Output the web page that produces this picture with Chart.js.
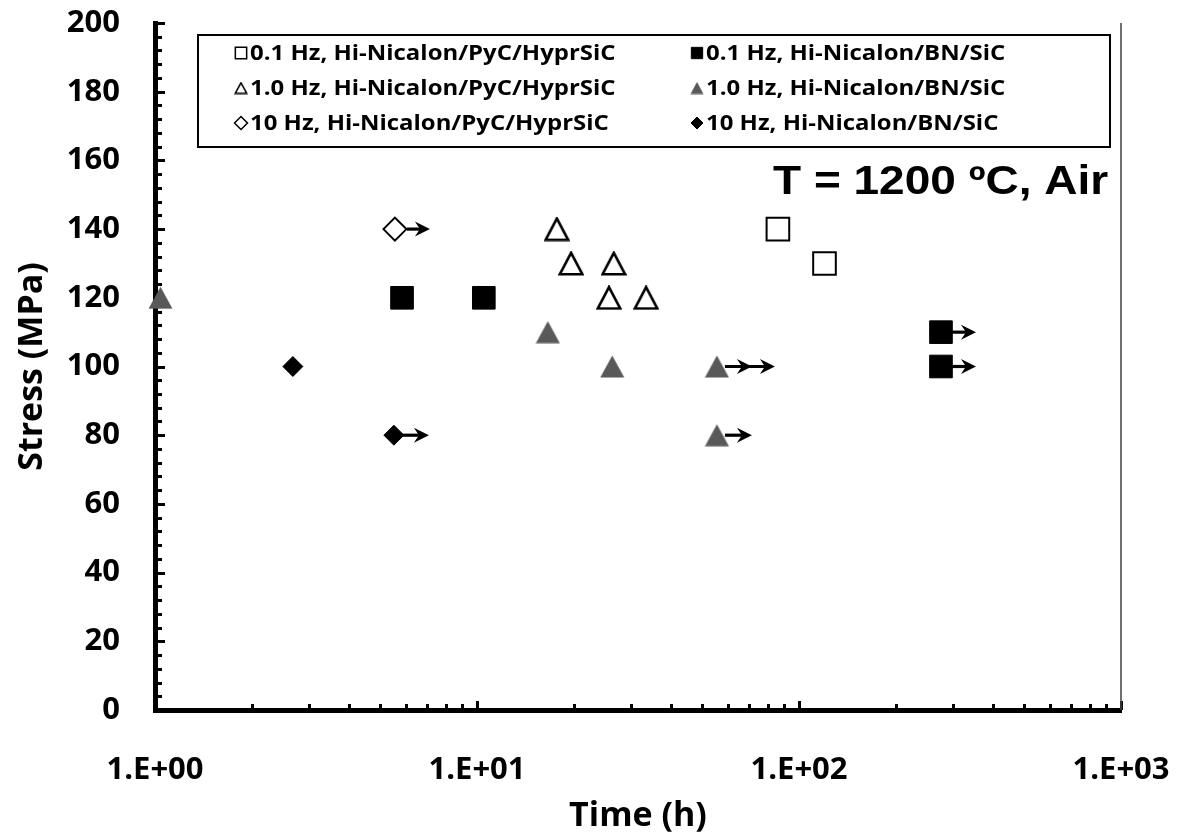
<!DOCTYPE html>
<html>
<head>
<meta charset="utf-8">
<script src="https://cdn.jsdelivr.net/npm/chart.js@4.4.1/dist/chart.umd.min.js"></script>
<style>
  html, body { margin: 0; padding: 0; background: #ffffff; }
  canvas { display: block; }
</style>
</head>
<body>
<canvas id="chart" width="1178" height="837"></canvas>
<script>
// Fatigue life at 1200 °C in air: time to failure (h) vs. maximum stress (MPa).
// runout = number of specimens at that point that did not fail (drawn with arrows).

const seriesLabels = [
  '0.1 Hz, Hi-Nicalon/PyC/HyprSiC',
  '0.1 Hz, Hi-Nicalon/BN/SiC',
  '1.0 Hz, Hi-Nicalon/PyC/HyprSiC',
  '1.0 Hz, Hi-Nicalon/BN/SiC',
  '10 Hz, Hi-Nicalon/PyC/HyprSiC',
  '10 Hz, Hi-Nicalon/BN/SiC'
];

const pyc01Time    = [86, 120];
const pyc01Stress  = [140, 130];
const pyc01Runout  = [0, 0];

const bn01Time     = [5.85, 10.5, 276, 276];
const bn01Stress   = [120, 120, 110, 100];
const bn01Runout   = [0, 0, 1, 1];

const pyc1Time     = [17.7, 19.6, 26.6, 25.7, 33.5];
const pyc1Stress   = [140, 130, 130, 120, 120];
const pyc1Runout   = [0, 0, 0, 0, 0];

const bn1Time      = [1.04, 16.6, 26.3, 55.6, 55.6];
const bn1Stress    = [120, 110, 100, 100, 80];
const bn1Runout    = [0, 0, 0, 2, 1];

const pyc10Time    = [5.56];
const pyc10Stress  = [140];
const pyc10Runout  = [1];

const bn10Time     = [2.68, 5.52];
const bn10Stress   = [100, 80];
const bn10Runout   = [0, 1];

const xTickValues  = [1, 10, 100, 1000];
const yMin = 0, yMax = 200, yStep = 20, yMinorStep = 4;

const annotationText = 'T = 1200 \u00BAC, Air';

const FONT = '"Open Sans", "Liberation Sans", sans-serif';
const GRAY = '#595959';

function toPoints(xs, ys) {
  return xs.map((x, i) => ({ x: x, y: ys[i] }));
}

// Triangle markers centred on their bounding box
function triangleImage(w, h, fill, stroke, lw) {
  const c = document.createElement('canvas');
  c.width = w; c.height = h;
  const g = c.getContext('2d');
  const m = lw / 2 + 0.5;
  g.beginPath();
  g.moveTo(w / 2, m);
  g.lineTo(w - m, h - m);
  g.lineTo(m, h - m);
  g.closePath();
  g.fillStyle = fill;
  g.fill();
  if (lw > 0) {
    g.lineWidth = lw;
    g.lineJoin = 'miter';
    g.strokeStyle = stroke;
    g.stroke();
  }
  return c;
}

const openTri = triangleImage(26, 25, '#ffffff', '#000000', 2.6);
const grayTri = triangleImage(25, 23, GRAY, GRAY, 0);
const openTriLegend = triangleImage(14, 13, '#ffffff', '#000000', 1.6);
const grayTriLegend = triangleImage(14, 13, GRAY, GRAY, 0);

const datasets = [
  { label: seriesLabels[0], data: toPoints(pyc01Time, pyc01Stress), runout: pyc01Runout,
    pointStyle: 'rect', pointRadius: 16, backgroundColor: '#ffffff', borderColor: '#000000', borderWidth: 2,
    legendStyle: 'rect', legendRadius: 8, legendBorder: 1.5, arrowStart: 11 },
  { label: seriesLabels[1], data: toPoints(bn01Time, bn01Stress), runout: bn01Runout,
    pointStyle: 'rect', pointRadius: 16, backgroundColor: '#000000', borderColor: '#000000', borderWidth: 1,
    legendStyle: 'rect', legendRadius: 8, legendBorder: 1, arrowStart: 11 },
  { label: seriesLabels[2], data: toPoints(pyc1Time, pyc1Stress), runout: pyc1Runout,
    pointStyle: openTri, pointRadius: 13, backgroundColor: '#ffffff', borderColor: '#000000', borderWidth: 2,
    legendStyle: openTriLegend, legendRadius: 7, legendBorder: 0, arrowStart: 8 },
  { label: seriesLabels[3], data: toPoints(bn1Time, bn1Stress), runout: bn1Runout,
    pointStyle: grayTri, pointRadius: 13, backgroundColor: GRAY, borderColor: GRAY, borderWidth: 1,
    legendStyle: grayTriLegend, legendRadius: 7, legendBorder: 0, arrowStart: 8 },
  { label: seriesLabels[4], data: toPoints(pyc10Time, pyc10Stress), runout: pyc10Runout,
    pointStyle: 'rectRot', pointRadius: 11.5, backgroundColor: '#ffffff', borderColor: '#000000', borderWidth: 2,
    legendStyle: 'rectRot', legendRadius: 6.5, legendBorder: 1.5, arrowStart: 12 },
  { label: seriesLabels[5], data: toPoints(bn10Time, bn10Stress), runout: bn10Runout,
    pointStyle: 'rectRot', pointRadius: 10, backgroundColor: '#000000', borderColor: '#000000', borderWidth: 1,
    legendStyle: 'rectRot', legendRadius: 6, legendBorder: 1, arrowStart: 8 }
].map(d => Object.assign(d, { showLine: false, clip: false, pointHoverRadius: d.pointRadius }));

// Inside tick marks on the left and bottom axes, plus the right frame line
const axisTicks = {
  id: 'axisTicks',
  beforeDatasetsDraw(chart) {
    const ctx = chart.ctx, a = chart.chartArea;
    const xs = chart.scales.x, ys = chart.scales.y;
    ctx.save();
    ctx.strokeStyle = '#000000';
    ctx.lineWidth = 3;
    for (let v = yMin; v <= yMax; v += yMinorStep) {
      const py = Math.round(ys.getPixelForValue(v)) + 0.5;
      const major = v % yStep === 0;
      ctx.beginPath();
      ctx.moveTo(a.left, py);
      ctx.lineTo(a.left + (major ? 10 : 7), py);
      ctx.stroke();
    }
    for (let d = 0; d < xTickValues.length; d++) {
      const base = xTickValues[d];
      for (let k = 1; k <= 9; k++) {
        const v = base * k;
        if (v > xs.max || (k === 1 && d === 0)) continue;
        const px = Math.round(xs.getPixelForValue(v)) + 0.5;
        const major = k === 1;
        ctx.beginPath();
        ctx.moveTo(px, a.bottom);
        ctx.lineTo(px, a.bottom - (major ? 9 : 6));
        ctx.stroke();
      }
    }
    ctx.lineWidth = 1.5;
    ctx.strokeStyle = '#404040';
    ctx.beginPath();
    ctx.moveTo(a.right, a.top);
    ctx.lineTo(a.right, a.bottom);
    ctx.stroke();
    ctx.restore();
  }
};

// Run-out arrows pointing to longer life
function arrowHead(ctx, tx, ty) {
  ctx.beginPath();
  ctx.moveTo(tx, ty);
  ctx.lineTo(tx - 15, ty - 7.5);
  ctx.lineTo(tx - 10, ty);
  ctx.lineTo(tx - 15, ty + 7.5);
  ctx.closePath();
  ctx.fill();
}
const runoutArrows = {
  id: 'runoutArrows',
  afterDatasetsDraw(chart) {
    const ctx = chart.ctx;
    const xs = chart.scales.x, ys = chart.scales.y;
    ctx.save();
    ctx.strokeStyle = '#000000';
    ctx.fillStyle = '#000000';
    ctx.lineWidth = 3.2;
    chart.data.datasets.forEach(ds => {
      ds.data.forEach((p, i) => {
        const n = ds.runout[i];
        if (!n) return;
        const px = xs.getPixelForValue(p.x), py = ys.getPixelForValue(p.y);
        const first = 35, step = 23;
        const end = px + first + step * (n - 1);
        ctx.beginPath();
        ctx.moveTo(px + ds.arrowStart, py);
        ctx.lineTo(end - 6, py);
        ctx.stroke();
        for (let j = 0; j < n; j++) arrowHead(ctx, px + first + step * j, py);
      });
    });
    ctx.restore();
  }
};

// Two-column boxed legend and the test-condition note
const boxedLegend = {
  id: 'boxedLegend',
  afterDraw(chart) {
    const ctx = chart.ctx;
    const box = { left: 198, top: 35, right: 1110, bottom: 147 };
    const colMarkerX = [241, 697];
    const rowY = [53, 88, 123];
    ctx.save();
    ctx.fillStyle = '#ffffff';
    ctx.fillRect(box.left, box.top, box.right - box.left, box.bottom - box.top);
    ctx.lineWidth = 2;
    ctx.strokeStyle = '#000000';
    ctx.strokeRect(box.left, box.top, box.right - box.left, box.bottom - box.top);
    chart.data.datasets.forEach((ds, i) => {
      const col = i % 2, row = Math.floor(i / 2);
      const mx = colMarkerX[col], my = rowY[row];
      ctx.fillStyle = ds.backgroundColor;
      ctx.strokeStyle = ds.borderColor;
      ctx.lineWidth = ds.legendBorder;
      Chart.helpers.drawPoint(ctx, {
        pointStyle: ds.legendStyle, radius: ds.legendRadius, rotation: 0, borderWidth: ds.legendBorder
      }, mx, my);
      ctx.save();
      ctx.translate(mx + 9, my + 1);
      ctx.scale(1.14, 1);
      ctx.font = 'bold 21px ' + FONT;
      ctx.textBaseline = 'middle';
      ctx.textAlign = 'left';
      ctx.fillStyle = '#000000';
      ctx.fillText(ds.label, 0, 0);
      ctx.restore();
    });
    ctx.save();
    ctx.translate(773, 194);
    ctx.scale(1.15, 1);
    ctx.font = 'bold 40px "Liberation Sans", Arial, sans-serif';
    ctx.textBaseline = 'alphabetic';
    ctx.textAlign = 'left';
    ctx.fillStyle = '#000000';
    ctx.fillText(annotationText, 0, 0);
    ctx.restore();
    ctx.restore();
  }
};

function expLabel(v) {
  const e = Math.round(Math.log10(v));
  return '1.E+' + String(e).padStart(2, '0');
}

new Chart(document.getElementById('chart'), {
  type: 'scatter',
  data: { datasets: datasets },
  plugins: [axisTicks, runoutArrows, boxedLegend],
  options: {
    responsive: false,
    devicePixelRatio: 1,
    animation: false,
    events: [],
    layout: { padding: { top: 23, right: 57, bottom: 0, left: 0 } },
    plugins: { legend: { display: false }, tooltip: { enabled: false } },
    scales: {
      x: {
        type: 'logarithmic',
        position: 'bottom',
        min: 1,
        max: 1000,
        afterBuildTicks: (scale) => { scale.ticks = xTickValues.map(v => ({ value: v, major: true })); },
        afterFit: (scale) => {
          scale.height = 127;
          scale.paddingLeft = 0; scale.paddingRight = 0;
          scale.paddingTop = 0; scale.paddingBottom = 0;
        },
        grid: { display: true, drawOnChartArea: false, drawTicks: false },
        border: { display: true, color: '#000000', width: 5 },
        ticks: {
          callback: (v) => expLabel(v),
          color: '#000000',
          font: { family: FONT, size: 31, weight: 'bold' },
          padding: 42,
          maxRotation: 0,
          autoSkip: false
        },
        title: {
          display: true,
          text: 'Time (h)',
          color: '#000000',
          font: { family: FONT, size: 34, weight: 'bold' },
          padding: { top: 0, bottom: 0 }
        }
      },
      y: {
        position: 'left',
        min: yMin,
        max: yMax,
        afterFit: (scale) => {
          scale.width = 155;
          scale.paddingLeft = 0; scale.paddingRight = 0;
          scale.paddingTop = 0; scale.paddingBottom = 0;
        },
        grid: { display: true, drawOnChartArea: false, drawTicks: false },
        border: { display: true, color: '#000000', width: 5 },
        ticks: {
          stepSize: yStep,
          color: '#000000',
          font: { family: FONT, size: 31, weight: 'bold' },
          padding: 35
        },
        title: {
          display: true,
          text: 'Stress (MPa)',
          color: '#000000',
          font: { family: FONT, size: 34, weight: 'bold' },
          padding: { top: 12, bottom: 0 }
        }
      }
    }
  }
});
</script>
</body>
</html>
